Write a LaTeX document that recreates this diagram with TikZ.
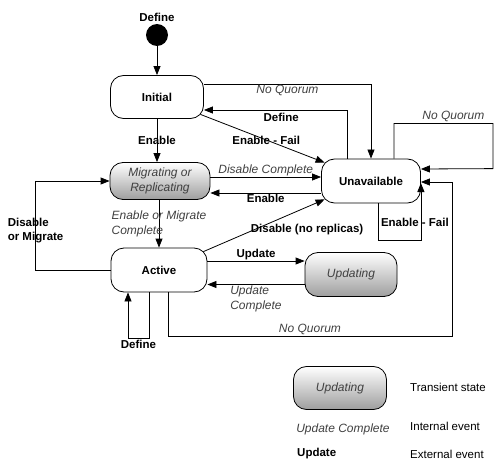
\documentclass[tikz,border=0pt]{standalone}
\usepackage{fontspec}
\setmainfont{Liberation Sans}
\usetikzlibrary{arrows.meta}

\newcommand\lblsize{\fontsize{11.5}{14}\selectfont}
\newcommand\itsize{\fontsize{12}{14.5}\selectfont}

\tikzset{
  state/.style={draw, line width=0.8pt, rounded corners=13pt, minimum width=93pt,
    minimum height=43pt, inner sep=0pt, align=center, font=\lblsize\bfseries},
  trans/.style={state, top color=white, bottom color=black!38, text=black!75,
    font=\itsize\itshape},
  arr/.style={line width=0.8pt, -{Triangle[length=9pt,width=7pt]}},
  ev/.style={font=\lblsize\bfseries, inner sep=1pt},
  iev/.style={font=\itsize\itshape, text=black!75, inner sep=1pt},
  txt/.style={font=\lblsize, inner sep=0pt, anchor=west},
}

\begin{document}
\begin{tikzpicture}[x=1pt,y=-1pt]
	\useasboundingbox (0,0) rectangle (496,460);

	% states
	\node[fill, circle, minimum size=22pt, inner sep=0pt] (start) at (157,35) {};
	\node[ev, above=1pt] (startlbl) at (start.north) {Define};
	\node[state] (init) at (157,97) {Initial};
	\node[trans, minimum width=100pt, minimum height=37pt] (migr) at (160,181) {Migrating or\\Replicating};
	\node[state, minimum width=96pt, minimum height=44pt] (act) at (159,270) {Active};
	\node[state, minimum width=99pt, minimum height=44pt] (unav) at (371,181) {Unavailable};
	\node[trans, minimum width=92pt, minimum height=44pt] (upd) at (351,274.5) {Updating};

	% transitions
	\draw[arr] (start) -- (init);
	\draw[arr] (init.south) -- node[ev]{Enable} (init.south |- migr.north);
	\draw[arr] (act.north |- migr.south) -- node[iev, align=left]{Enable or Migrate\\Complete} (act.north);
	\draw[arr] ([yshift=13pt]init.east) -| node[iev, pos=0.25, below]{No Quorum} (unav.north);
	\draw[arr] ([xshift=-24pt]unav.north) |- node[ev, pos=0.73, below=2pt]{Define} ([yshift=-13pt]init.east);
	\draw[arr] ([shift={(-3.5pt,4.5pt)}]init.south east) -- node[ev, pos=0.53]{Enable - Fail} ([shift={(3.5pt,-4pt)}]unav.north west);
	\draw[arr] ([yshift=4pt]migr.east) -- node[iev, above=0pt]{Disable Complete} ([yshift=4pt]unav.west);
	\draw[arr] ([yshift=-12pt]unav.west) -- node[ev, below]{Enable} ([yshift=-12pt]migr.east);
	\draw[arr] ([shift={(-4pt,-4pt)}]act.north east) -- node[ev, pos=0.38, anchor=west, yshift=2pt]{Disable (no replicas)} ([shift={(3.5pt,4pt)}]unav.south west);
	\draw[arr] ([xshift=23pt]unav.north) -- ++(0,-35) -| node[iev, pos=0.3, above]{No Quorum} ++(99,45) -- ([yshift=12pt]unav.east);
	\draw[arr] ([xshift=7pt]unav.south) -- ++(0,37) -| node[ev, pos=0.66, xshift=-6pt]{Enable - Fail} ([yshift=-2pt]unav.east);
	\draw[arr] ([xshift=9pt]act.south) -- ++(0,44) -- node[iev, above]{No Quorum} ++(284,0) |- ([yshift=-1pt]unav.east);
	\draw[arr] ([xshift=-10pt]act.south) -- ++(0,46) -- node[ev, below]{Define} ++(-21,0) -- ([xshift=-31pt]act.south);
	\draw[arr] (act.west) -- ++(-75,0) |- node[ev, pos=0.22, align=left]{Disable\\or Migrate} (migr.west);
	\draw[arr] ([yshift=9pt]act.east) -- node[ev, above=0pt]{Update} ([yshift=9pt]act.east -| upd.west);
	\draw[arr] ([yshift=-10pt]upd.west) -- node[iev, below, align=left]{Update\\Complete} ([yshift=-10pt]upd.west -| act.east);

	% legend
	\node[trans, minimum width=93pt, minimum height=43pt] (lgstate) at (340,388) {Updating};
	\node[txt] (lgstatetxt) at (410,387) {Transient state};
	\node[iev] (lgint) at (343,429) {Update Complete};
	\node[txt] (lginttxt) at (410,426) {Internal event};
	\node[ev, anchor=west] (lgext) at (296,454) {Update};
	\node[txt] (lgexttxt) at (410,454) {External event};
\end{tikzpicture}
\end{document}
